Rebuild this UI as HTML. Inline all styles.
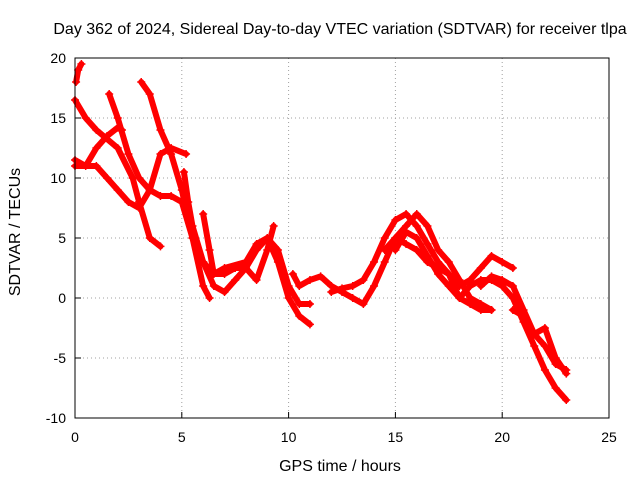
<!DOCTYPE html>
<html><head><meta charset="utf-8"><style>
body{margin:0;background:#fff;}
svg{display:block;font-family:"Liberation Sans",sans-serif;}
</style></head><body>
<svg id="chart" width="640" height="480">
<text x="340" y="34" font-size="16" text-anchor="middle">Day 362 of 2024, Sidereal Day-to-day VTEC variation (SDTVAR) for receiver tlpa</text>
<text x="340" y="471" font-size="16" text-anchor="middle">GPS time / hours</text>
<text x="20" y="232" font-size="16" text-anchor="middle" transform="rotate(-90 20 232)">SDTVAR / TECUs</text>
<g id="grid"></g><g id="ticks"></g><g id="series"></g>
<rect x="75" y="58" width="534" height="360" fill="none" stroke="#000"/>
</svg>
<script>
const xTicks=[0,5,10,15,20,25];
const yTicks=[-10,-5,0,5,10,15,20];
const arc1=[[0.05,18],[0.15,19],[0.3,19.5]];
const arc2=[[0,16.5],[0.5,15],[1,14],[2,12.5],[2.7,10],[3,8],[3.5,5],[4,4.3]];
const arc3=[[1.6,17],[2,15],[2.5,12],[3,10],[3.5,9],[4,8.5],[4.5,8.5],[5,8],[5.5,5],[6,1],[6.3,0]];
const arc4=[[3.1,18],[3.5,17],[4,14],[4.5,12],[5,9],[5.5,5],[6,3],[6.5,1],[7,0.5],[7.5,1.5],[8,2.5],[8.5,4],[9,5],[9.5,3],[10,0],[10.5,-1.5],[11,-2.2]];
const arc5=[[0,11],[1,11],[1.5,10],[2,9],[2.5,8],[3,7.5],[3.5,9],[4,12],[4.5,12.5],[5.2,12]];
const arc6=[[0,11.5],[0.5,11],[1,12.5],[1.5,13.5],[2,14.2],[2.2,14]];
const arc7=[[5.1,10.5],[5.3,8],[5.5,6],[6,3],[6.5,2],[7,2.5],[8,3],[8.5,4.5],[9,5],[9.5,4],[10,1],[10.5,-0.5],[11,-0.5]];
const arc8=[[6,7],[6.3,4],[6.5,2],[7,2],[7.5,2.5],[8,2.5],[8.5,1.5],[9,4],[9.3,6]];
const arc9=[[10.2,2],[10.5,1],[11,1.5],[11.5,1.8],[12,1],[12.5,0.5],[13,0],[13.5,-0.5],[14,1],[14.5,3],[15,5],[15.5,6],[16,7],[16.5,6],[17,4],[17.5,3],[18,1.5],[18.5,0],[19,-0.5],[19.5,-1]];
const arc10=[[12,0.5],[12.5,0.8],[13,1],[13.5,1.5],[14,3],[14.5,5],[15,6.5],[15.5,7],[16,6],[16.5,4.5],[17,3],[17.5,2],[18,0],[18.5,1],[19,1.5],[19.5,1.5],[20,1],[20.5,0],[21,-2],[21.5,-4],[22,-6],[22.5,-7.5],[23,-8.5]];
const arc11=[[14.5,4],[15,5],[15.5,4.5],[16,4],[16.5,3],[17,2.5],[17.5,2],[18,1],[18.5,1.5],[19,2.5],[19.5,3.5],[20,3],[20.5,2.5]];
const arc12=[[19,1],[19.5,1.8],[20,1.5],[20.5,1],[21,-1],[21.5,-3],[22,-4],[22.5,-5.5],[23,-6]];
const arc13=[[15,4],[15.5,5.5],[16,5],[16.5,3.5],[17,2],[17.5,1],[18,0],[18.5,-0.5],[19,-1],[19.5,-1]];
const arc14=[[20.5,-1],[21,-1.5],[21.5,-3],[22,-2.5],[22.5,-5],[23,-6.3]];
const arcs=[arc1,arc2,arc3,arc4,arc5,arc6,arc7,arc8,arc9,arc10,arc11,arc12,arc13,arc14];
const X=v=>75+v*534/25, Y=v=>418-(v+10)*12;
const NS="http://www.w3.org/2000/svg";
const grid=document.getElementById('grid'),ticks=document.getElementById('ticks'),ser=document.getElementById('series');
function mk(tag,attrs,parent){const e=document.createElementNS(NS,tag);for(const k in attrs)e.setAttribute(k,attrs[k]);parent.appendChild(e);return e;}
xTicks.forEach(t=>{
 const g=mk('line',{x1:X(t),x2:X(t),y1:58,y2:418,stroke:'#a0a0a0','stroke-dasharray':'1,3'},grid);
 
 
 mk('line',{x1:X(t),x2:X(t),y1:418,y2:412,stroke:'#000'},ticks);
 const l=mk('text',{x:X(t),y:442,'font-size':14,'text-anchor':'middle'},ticks);l.textContent=t;
 
 
});
yTicks.forEach(t=>{
 const g=mk('line',{x1:75,x2:609,y1:Y(t),y2:Y(t),stroke:'#a0a0a0','stroke-dasharray':'1,3'},grid);
 
 
 mk('line',{x1:75,x2:81,y1:Y(t),y2:Y(t),stroke:'#000'},ticks);
 const l=mk('text',{x:66,y:Y(t)+5,'font-size':14,'text-anchor':'end'},ticks);l.textContent=t;
 
 
});
arcs.forEach(a=>{
 const p=mk('polyline',{points:a.map(d=>X(d[0])+','+Y(d[1])).join(' '),fill:'none',stroke:'#ff0000','stroke-width':6,'stroke-linejoin':'round','stroke-linecap':'round'},ser);
 
 
 a.forEach(d=>{
  const m=mk('path',{d:`M${X(d[0])-4},${Y(d[1])}h8M${X(d[0])},${Y(d[1])-4}v8`,stroke:'#ff0000','stroke-width':1.5},ser);
  
  
 });
});
</script>
</body></html>
